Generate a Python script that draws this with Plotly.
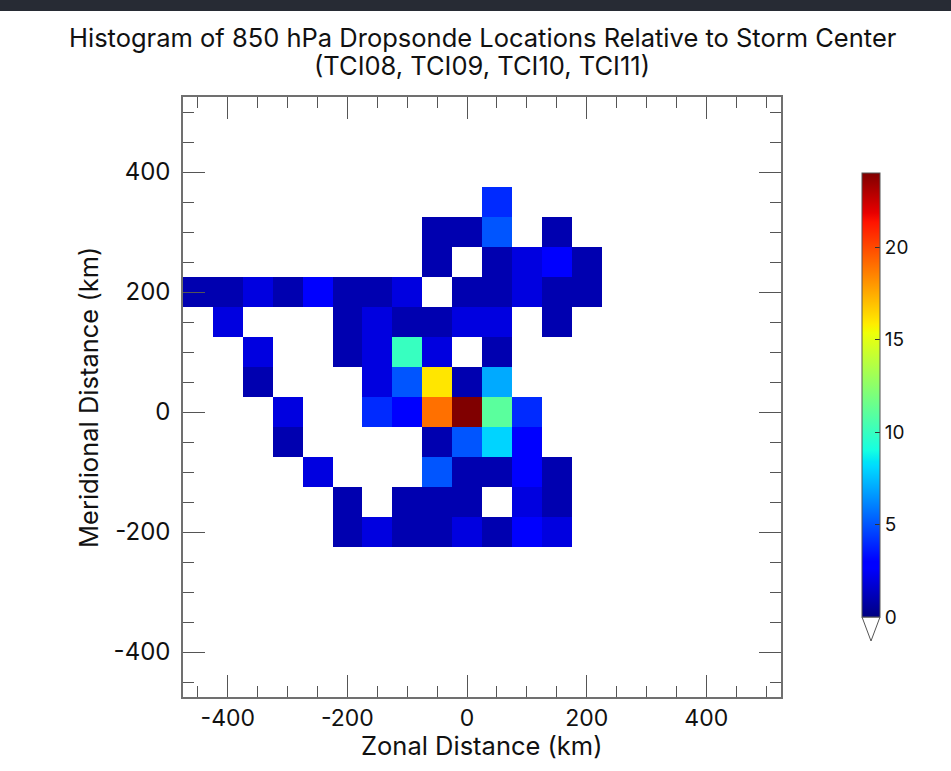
import numpy as np
import plotly.graph_objects as go

# Bin centres (km), 50 km bins
x_centers = [-450, -400, -350, -300, -250, -200, -150, -100, -50, 0,
             50, 100, 150, 200, 250, 300, 350, 400, 450, 500]
y_centers = [-450, -400, -350, -300, -250, -200, -150, -100, -50, 0,
             50, 100, 150, 200, 250, 300, 350, 400, 450, 500]

# Dropsonde counts per bin, one list per meridional row (rows not listed are empty)
counts_by_row = {
    350:  [0, 0, 0, 0, 0, 0, 0, 0, 0, 0, 4, 0, 0, 0, 0, 0, 0, 0, 0, 0],
    300:  [0, 0, 0, 0, 0, 0, 0, 0, 1, 1, 5, 0, 1, 0, 0, 0, 0, 0, 0, 0],
    250:  [0, 0, 0, 0, 0, 0, 0, 0, 1, 0, 1, 2, 3, 1, 0, 0, 0, 0, 0, 0],
    200:  [1, 1, 2, 1, 3, 1, 1, 2, 0, 1, 1, 2, 1, 1, 0, 0, 0, 0, 0, 0],
    150:  [0, 2, 0, 0, 0, 1, 2, 1, 1, 2, 2, 0, 1, 0, 0, 0, 0, 0, 0, 0],
    100:  [0, 0, 2, 0, 0, 1, 2, 10, 2, 0, 1, 0, 0, 0, 0, 0, 0, 0, 0, 0],
    50:   [0, 0, 1, 0, 0, 0, 2, 5, 16, 1, 7, 0, 0, 0, 0, 0, 0, 0, 0, 0],
    0:    [0, 0, 0, 2, 0, 0, 4, 3, 19, 24, 11, 4, 0, 0, 0, 0, 0, 0, 0, 0],
    -50:  [0, 0, 0, 1, 0, 0, 0, 0, 1, 5, 8, 3, 0, 0, 0, 0, 0, 0, 0, 0],
    -100: [0, 0, 0, 0, 2, 0, 0, 0, 5, 1, 1, 3, 1, 0, 0, 0, 0, 0, 0, 0],
    -150: [0, 0, 0, 0, 0, 1, 0, 1, 1, 1, 0, 2, 1, 0, 0, 0, 0, 0, 0, 0],
    -200: [0, 0, 0, 0, 0, 1, 2, 1, 1, 2, 1, 3, 2, 0, 0, 0, 0, 0, 0, 0],
}

x_tick_vals = [-400, -200, 0, 200, 400]
x_tick_text = ["-400", "-200", "0", "200", "400"]
y_tick_vals = [-400, -200, 0, 200, 400]
y_tick_text = ["-400", "-200", "0", "200", "400"]
cbar_tick_vals = [0, 5, 10, 15, 20]
cbar_tick_text = ["0", "5", "10", "15", "20"]

# Assemble the count grid; empty bins stay blank (white)
z = []
for yc in y_centers:
    row = counts_by_row.get(yc, [0] * len(x_centers))
    z.append([v if v > 0 else None for v in row])

# Classic "jet" colour table
jet_pts = [0, 0.11, 0.125, 0.34, 0.35, 0.375, 0.64, 0.65, 0.66, 0.89, 0.91, 1.0]
r_p = ([0, 0.35, 0.66, 0.89, 1.0], [0, 0, 1, 1, 0.5])
g_p = ([0, 0.125, 0.375, 0.64, 0.91, 1.0], [0, 0, 1, 1, 0, 0])
b_p = ([0, 0.11, 0.34, 0.65, 1.0], [0.5, 1, 1, 0, 0])
jet = []
for p in jet_pts:
    r = np.interp(p, *r_p)
    g = np.interp(p, *g_p)
    b = np.interp(p, *b_p)
    jet.append([p, f"rgb({int(round(r*255))},{int(round(g*255))},{int(round(b*255))})"])

FONT = "Inter, Liberation Sans, Arial, sans-serif"
INK = "#111111"
FRAME = "#707070"
TICKC = "#555555"

W, H = 951, 771
L, R, T, B = 183, 951 - 781, 97, 771 - 697
pw, ph = W - L - R, H - T - B


def px_x(px):
    return (px - L) / pw


def px_y(py):
    return (H - B - py) / ph


fig = go.Figure()
fig.add_trace(go.Heatmap(
    x=x_centers, y=y_centers, z=z,
    colorscale=jet, zmin=0, zmax=24,
    hoverongaps=False,
    colorbar=dict(
        thicknessmode="pixels", thickness=18,
        lenmode="pixels", len=444,
        x=px_x(862), xanchor="left",
        y=px_y(395), yanchor="middle",
        outlinewidth=1, outlinecolor="#555555",
        tickmode="array", tickvals=cbar_tick_vals, ticktext=cbar_tick_text,
        # small blank lead-in keeps the labels clear of the bar edge
        tickprefix="<span style='font-size:13px'>\u2800</span>",
        ticks="inside", ticklen=5, tickcolor="#333333",
        tickfont=dict(family=FONT, size=19, color=INK),
        xpad=0, ypad=0,
    ),
))

axis_common = dict(
    range=[-475, 525],
    showgrid=False, zeroline=False,
    showline=True, linecolor=FRAME, linewidth=1.5,
    mirror="allticks",
    ticks="inside", ticklen=22, tickwidth=1.2, tickcolor=TICKC,
    tickmode="array",
    minor=dict(dtick=50, tick0=0, ticks="inside", ticklen=11,
               tickwidth=1.2, tickcolor=TICKC, showgrid=False),
)

fig.update_xaxes(**axis_common, tickvals=x_tick_vals, ticktext=x_tick_text,
                 tickfont=dict(family=FONT, size=23, color=INK),
                 ticklabelstandoff=0)
fig.update_yaxes(**axis_common, tickvals=y_tick_vals, ticktext=y_tick_text,
                 tickfont=dict(family=FONT, size=24, color=INK),
                 ticklabelstandoff=6)

# Open triangle below the colour bar (values under the scale)
fig.add_shape(type="path", xref="paper", yref="paper",
              path=f"M {px_x(862)} {px_y(617)} L {px_x(880)} {px_y(617)} "
                   f"L {px_x(871)} {px_y(641)} Z",
              fillcolor="white", line=dict(color="#555555", width=1))

# Dark strip along the top edge
fig.add_shape(type="rect", xref="paper", yref="paper",
              x0=px_x(0), x1=px_x(W), y0=px_y(11), y1=px_y(0),
              fillcolor="#272b34", line=dict(width=0), layer="above")

fig.add_annotation(text="Histogram of 850 hPa Dropsonde Locations Relative to Storm Center",
                   xref="paper", yref="paper", x=px_x(483), y=px_y(38),
                   xanchor="center", yanchor="middle", showarrow=False,
                   font=dict(family=FONT, size=25.5, color=INK))
fig.add_annotation(text="(TCI08, TCI09, TCI10, TCI11)",
                   xref="paper", yref="paper", x=px_x(482), y=px_y(65),
                   xanchor="center", yanchor="middle", showarrow=False,
                   font=dict(family=FONT, size=25.5, color=INK))
fig.add_annotation(text="Zonal Distance (km)",
                   xref="paper", yref="paper", x=px_x(482), y=px_y(746),
                   xanchor="center", yanchor="middle", showarrow=False,
                   font=dict(family=FONT, size=25.5, color=INK))
fig.add_annotation(text="Meridional Distance (km)",
                   xref="paper", yref="paper", x=px_x(88), y=px_y(398),
                   xanchor="center", yanchor="middle", showarrow=False,
                   textangle=-90,
                   font=dict(family=FONT, size=25.5, color=INK))

fig.update_layout(
    width=W, height=H, autosize=False,
    margin=dict(l=L, r=R, t=T, b=B, pad=0),
    paper_bgcolor="white", plot_bgcolor="white",
    showlegend=False,
)

fig.write_html("out.html")
